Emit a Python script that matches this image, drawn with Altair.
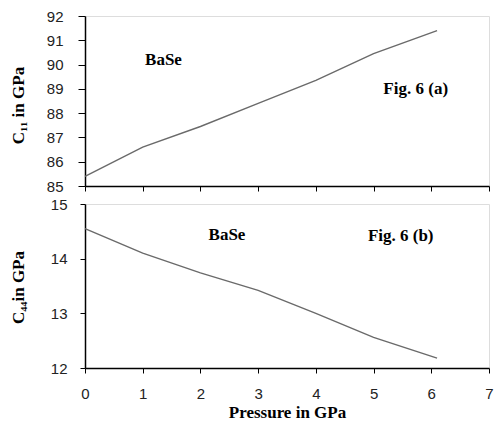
import altair as alt
import pandas as pd

pressure = [0, 1, 2, 3, 4, 5, 6.1]
c11 = [85.4, 86.6, 87.45, 88.4, 89.35, 90.45, 91.4]
c44 = [14.55, 14.1, 13.74, 13.42, 13.0, 12.56, 12.18]

top_labels = ["BaSe", "Fig. 6 (a)"]
top_lx = [1.36, 5.73]
top_ly = [90.2, 89.0]
bot_labels = ["BaSe", "Fig. 6 (b)"]
bot_lx = [2.46, 5.47]
bot_ly = [14.43, 14.41]

df = pd.DataFrame({"P": pressure, "C11": c11, "C44": c44})
ta = pd.DataFrame({"t": top_labels, "x": top_lx, "y": top_ly})
ba = pd.DataFrame({"t": bot_labels, "x": bot_lx, "y": bot_ly})

SERIF = "Liberation Serif, Times New Roman, serif"

LBL = dict(labelFont="Liberation Sans", labelFontSize=15, labelColor="#222",
           labelOverlap=False, labelFlush=False, format="d",
           domainColor="black", domainWidth=1.5, tickColor="black", grid=False,
           titleFont=SERIF, titleFontWeight="bold", titleFontSize=17,
           titleColor="black")

W = 404
xscale = alt.Scale(domain=[0, 7], nice=False, zero=False)
s11 = alt.Scale(domain=[85, 92], nice=False, zero=False)
s44 = alt.Scale(domain=[12, 15], nice=False, zero=False)

ax_top_x = alt.Axis(values=list(range(8)), labels=False, tickSize=5, title=None, **LBL)
ax_top_y = alt.Axis(values=list(range(85, 93)), tickSize=7, labelPadding=15,
                    title="C₁₁  in GPa", titleX=-67, titleY=89, titleAngle=270,
                    titleBaseline="middle", **LBL)
ax_bot_x = alt.Axis(values=list(range(8)), tickSize=5, labelPadding=13,
                    title="Pressure in GPa", titleY=44, titleBaseline="middle", **LBL)
ax_bot_y = alt.Axis(values=[12, 13, 14, 15], tickSize=5, labelPadding=13,
                    title="C₄₄in GPa", titleX=-67, titleY=83, titleAngle=270,
                    titleBaseline="middle", **LBL)

top_line = alt.Chart(df).mark_line(color="#6a6a6a", strokeWidth=1.4).encode(
    x=alt.X("P:Q", scale=xscale, axis=ax_top_x),
    y=alt.Y("C11:Q", scale=s11, axis=ax_top_y))
top_text = alt.Chart(ta).mark_text(font=SERIF, fontWeight="bold",
                                   fontSize=17, color="black").encode(
    x=alt.X("x:Q", scale=xscale, axis=ax_top_x),
    y=alt.Y("y:Q", scale=s11, axis=ax_top_y),
    text="t:N")
top = alt.layer(top_line, top_text).properties(width=W, height=170)

bot_line = alt.Chart(df).mark_line(color="#6a6a6a", strokeWidth=1.4).encode(
    x=alt.X("P:Q", scale=xscale, axis=ax_bot_x),
    y=alt.Y("C44:Q", scale=s44, axis=ax_bot_y))
bot_text = alt.Chart(ba).mark_text(font=SERIF, fontWeight="bold",
                                   fontSize=17, color="black").encode(
    x=alt.X("x:Q", scale=xscale, axis=ax_bot_x),
    y=alt.Y("y:Q", scale=s44, axis=ax_bot_y),
    text="t:N")
bot = alt.layer(bot_line, bot_text).properties(width=W, height=164)

chart = alt.vconcat(top, bot, spacing=1).properties(
    padding={"left": 0, "top": 0, "right": 0, "bottom": 0}
).configure_view(stroke="#808080", strokeWidth=1.5).configure(background="white")

chart.save("out.html", embed_options={"renderer": "svg", "actions": False})
